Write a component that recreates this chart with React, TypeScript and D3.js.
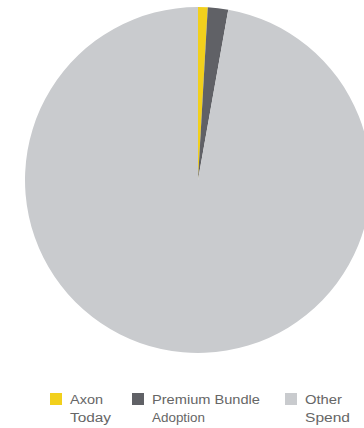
import React from "react";
import * as d3 from "d3";

const categories = ["Axon Today", "Premium Bundle Adoption", "Other Spend"];
const values = [0.9, 1.9, 97.2];
const colors = ["#f2d01c", "#606166", "#c9cbce"];
const legendLines = [["Axon", "Today"], ["Premium Bundle", "Adoption"], ["Other", "Spend"]];
const legendWidths = [[33, 41], [108, 53], [37, 45]];
const legendX = [50, 132, 285];

export default function App() {
  const W = 364, H = 428;
  const cx = 198, cy = 180, r = 173;
  const pie = d3.pie<number>().sort(null).value((d) => d);
  const arcs = pie(values);
  const arc = d3.arc<d3.PieArcDatum<number>>().innerRadius(0).outerRadius(r);
  return (
    <svg width={W} height={H} style={{ position: "absolute", left: 0, top: 0, background: "#fff" }}>
      <g transform={`translate(${cx},${cy})`}>
        {arcs.map((a, i) => (
          <path key={i} d={arc(a) || ""} fill={colors[i]} />
        ))}
      </g>
      <g fontFamily="Liberation Sans, Arial, sans-serif" fontSize={12.5} fill="#666">
        {categories.map((c, i) => (
          <g key={c}>
            <rect x={legendX[i]} y={393} width={12} height={12} fill={colors[i]} />
            {legendLines[i].map((t, j) => (
              <text key={j} x={legendX[i] + 20} y={404 + j * 18} textLength={legendWidths[i][j]} lengthAdjust="spacingAndGlyphs">{t}</text>
            ))}
          </g>
        ))}
      </g>
    </svg>
  );
}
